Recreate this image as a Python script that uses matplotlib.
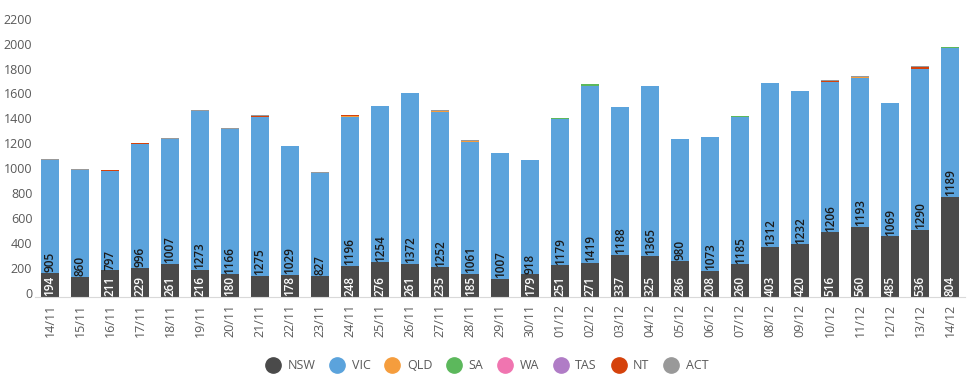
import matplotlib
matplotlib.use("Agg")
import matplotlib.pyplot as plt
import matplotlib.transforms as mtransforms
from matplotlib.lines import Line2D
import numpy as np

plt.rcParams.update({"font.family": ["Open Sans", "DejaVu Sans"], "font.size": 9})

dates = ["14/11", "15/11", "16/11", "17/11", "18/11", "19/11", "20/11", "21/11",
         "22/11", "23/11", "24/11", "25/11", "26/11", "27/11", "28/11", "29/11",
         "30/11", "01/12", "02/12", "03/12", "04/12", "05/12", "06/12", "07/12",
         "08/12", "09/12", "10/12", "11/12", "12/12", "13/12", "14/12"]

nsw = [194, 160, 211, 229, 261, 216, 180, 170, 178, 170, 248, 276, 261, 235, 185, 145,
       179, 251, 271, 337, 325, 286, 208, 260, 403, 420, 516, 560, 485, 536, 804]
vic = [905, 860, 797, 996, 1007, 1273, 1166, 1275, 1029, 827, 1196, 1254, 1372, 1252,
       1061, 1007, 918, 1179, 1419, 1188, 1365, 980, 1073, 1185, 1312, 1232, 1206, 1193,
       1069, 1290, 1189]
qld = [0, 0, 3, 0, 0, 0, 0, 0, 0, 0, 3, 0, 0, 4, 5, 0,
       0, 0, 0, 0, 0, 0, 0, 0, 0, 0, 0, 8, 0, 0, 0]
sa = [0, 0, 0, 0, 0, 0, 0, 0, 0, 0, 0, 0, 0, 0, 0, 0,
      0, 3, 20, 0, 0, 0, 0, 6, 0, 0, 0, 0, 4, 0, 14]
wa = [0] * 31
tas = [0] * 31
nt = [0, 0, 6, 6, 0, 0, 0, 8, 0, 0, 10, 0, 0, 0, 0, 5,
      0, 0, 0, 0, 0, 0, 0, 0, 0, 0, 6, 0, 0, 20, 0]
act = [6, 3, 3, 3, 10, 8, 6, 10, 5, 6, 6, 4, 0, 10, 10, 0,
       0, 0, 0, 2, 3, 3, 0, 0, 2, 2, 10, 10, 0, 8, 0]

# NSW labels not shown on these days in the original
nsw_unlabelled = ["15/11", "21/11", "23/11", "29/11"]

states = ["NSW", "VIC", "QLD", "SA", "WA", "TAS", "NT", "ACT"]
series = [nsw, vic, qld, sa, wa, tas, nt, act]
colors = ["#4a4a4a", "#5ba3dc", "#f59d3d", "#5cb85c", "#f075b0", "#b07cc6",
          "#d5420b", "#999999"]

TXT = "#595959"

fig = plt.figure(figsize=(9.74, 3.83), dpi=100)
ax = fig.add_axes([0.036, 0.2253, 0.955, 0.7154])

x = np.arange(len(dates))
bottom = np.zeros(len(dates))
for vals, c in zip(series, colors):
    ax.bar(x, vals, 0.6, bottom=bottom, color=c, linewidth=0)
    bottom += np.array(vals)

for i, d in enumerate(dates):
    if d not in nsw_unlabelled:
        ax.text(i, 6, str(nsw[i]), rotation=90, ha="center", va="bottom",
                color="white", fontsize=8.5, fontweight="semibold")
    ax.text(i, nsw[i] + 6, str(vic[i]), rotation=90, ha="center", va="bottom",
            color="#1a1a1a", fontsize=8.5, fontweight="semibold")

ax.set_xlim(-0.5, len(dates) - 0.5)
ax.set_ylim(0, 2200)
ax.set_yticks(np.arange(0, 2201, 200))
ax.set_xticks(x)
ax.set_xticklabels(dates, rotation=90)
ax.tick_params(axis="both", length=0, colors=TXT, labelsize=9)
ax.tick_params(axis="x", pad=5)
ax.tick_params(axis="y", pad=2)
for lab in ax.get_yticklabels():
    lab.set_transform(lab.get_transform() +
                      mtransforms.ScaledTranslation(0, 0.04, fig.dpi_scale_trans))
for s in ["top", "right", "left"]:
    ax.spines[s].set_visible(False)
ax.spines["bottom"].set_color("#d9d9d9")

handles = [Line2D([], [], marker="o", ls="", ms=11, color=c, label=s)
           for s, c in zip(states, colors)]
fig.legend(handles=handles, loc="center", bbox_to_anchor=(0.499, 0.045), ncol=8,
           frameon=False, handlelength=1.5, handletextpad=0.4, columnspacing=1.0,
           fontsize=9, labelcolor=TXT)

fig.savefig("out.png", dpi=100)
